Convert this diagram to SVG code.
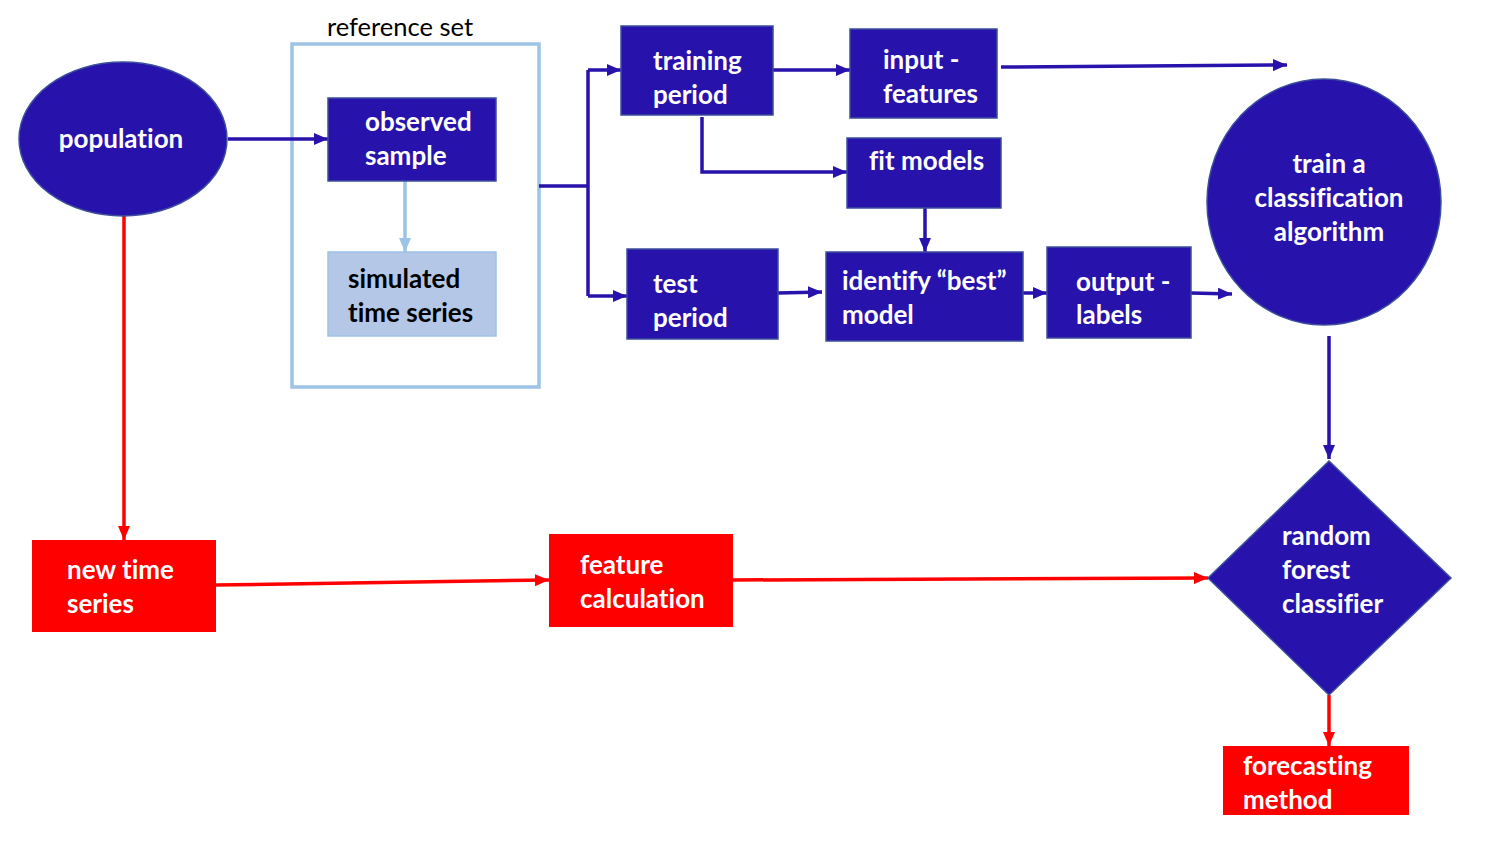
<svg xmlns="http://www.w3.org/2000/svg" width="1503" height="841" viewBox="0 0 1503 841">
<defs>
<marker id="ab" viewBox="0 0 14 12" refX="14" refY="6" markerWidth="14" markerHeight="12" markerUnits="userSpaceOnUse" orient="auto"><path d="M0,0 L14,6 L0,12 z" fill="#2812AC"/></marker>
<marker id="al" viewBox="0 0 14 12" refX="14" refY="6" markerWidth="14" markerHeight="12" markerUnits="userSpaceOnUse" orient="auto"><path d="M0,0 L14,6 L0,12 z" fill="#9DC3E6"/></marker>
<marker id="ar" viewBox="0 0 14 12" refX="14" refY="6" markerWidth="14" markerHeight="12" markerUnits="userSpaceOnUse" orient="auto"><path d="M0,0 L14,6 L0,12 z" fill="#FF0000"/></marker>
</defs>
<style>
.b{fill:#2812AC;stroke:#3C4E9C;stroke-width:1.5}
.r{fill:#FF0000}
.lt{fill:#B4C7E7;stroke:#9DC3E6;stroke-width:1.5}
text{font-family:Lato,"Open Sans","Liberation Sans",sans-serif;font-weight:bold;font-size:26px;fill:#fff;font-variant-ligatures:none}
.dk{fill:#000}
.cb{stroke:#2812AC;stroke-width:3.5;fill:none}
.cl{stroke:#9DC3E6;stroke-width:3.5;fill:none}
.cr{stroke:#FF0000;stroke-width:3.5;fill:none}
</style>
<rect width="1503" height="841" fill="#fff"/>
<g id="reference-set">
<rect x="292" y="44" width="247" height="343" fill="none" stroke="#9DC3E6" stroke-width="3.5"/>
<text x="327" y="36" class="dk" style="font-weight:normal;font-size:25.5px">reference set</text>
</g>
<g id="connectors">
<path class="cb" d="M228,139 L328,139" marker-end="url(#ab)"/>
<path class="cl" d="M405,181 L405,252" marker-end="url(#al)"/>
<path class="cb" d="M539,186 L588,186"/>
<path class="cb" d="M588,70 L588,296"/>
<path class="cb" d="M588,70 L621,70" marker-end="url(#ab)"/>
<path class="cb" d="M588,296 L627,296" marker-end="url(#ab)"/>
<path class="cb" d="M773,70 L850,70" marker-end="url(#ab)"/>
<path class="cb" d="M1001,67 L1287,65" marker-end="url(#ab)"/>
<path class="cb" d="M702,117 L702,172 L847,172" marker-end="url(#ab)"/>
<path class="cb" d="M925,208 L925,252" marker-end="url(#ab)"/>
<path class="cb" d="M778,293 L822,292" marker-end="url(#ab)"/>
<path class="cb" d="M1023,293 L1047,293" marker-end="url(#ab)"/>
<path class="cb" d="M1191,293 L1232,294" marker-end="url(#ab)"/>
<path class="cb" d="M1329,336 L1329,459" marker-end="url(#ab)"/>
<path class="cr" d="M124,216 L124,540" marker-end="url(#ar)"/>
<path class="cr" d="M216,585 L549,580" marker-end="url(#ar)"/>
<path class="cr" d="M733,580 L1208,578" marker-end="url(#ar)"/>
<path class="cr" d="M1329,695 L1329,746" marker-end="url(#ar)"/>
</g>
<g id="population">
<ellipse cx="123" cy="139" rx="104" ry="77" class="b"/>
<text x="121" y="148" text-anchor="middle">population</text>
</g>
<g id="observed-sample">
<rect x="328" y="98" width="168" height="83" class="b"/>
<text x="365" y="131">observed</text>
<text x="365" y="165">sample</text>
</g>
<g id="simulated-time-series">
<rect x="328" y="252" width="168" height="84" class="lt"/>
<text x="348" y="288" class="dk">simulated</text>
<text x="348" y="322" class="dk">time series</text>
</g>
<g id="training-period">
<rect x="621" y="26" width="152" height="89" class="b"/>
<text x="653" y="70">training</text>
<text x="653" y="104">period</text>
</g>
<g id="input-features">
<rect x="850" y="29" width="147" height="89" class="b"/>
<text x="883" y="69">input -</text>
<text x="883" y="103">features</text>
</g>
<g id="fit-models">
<rect x="847" y="138" width="154" height="70" class="b"/>
<text x="869" y="170">fit models</text>
</g>
<g id="test-period">
<rect x="627" y="249" width="151" height="90" class="b"/>
<text x="653" y="293">test</text>
<text x="653" y="327">period</text>
</g>
<g id="identify-best-model">
<rect x="826" y="252" width="197" height="89" class="b"/>
<text x="842" y="290">identify “best”</text>
<text x="842" y="324">model</text>
</g>
<g id="output-labels">
<rect x="1047" y="247" width="144" height="91" class="b"/>
<text x="1076" y="291">output -</text>
<text x="1076" y="324">labels</text>
</g>
<g id="train-classification">
<ellipse cx="1324" cy="202" rx="117" ry="123" class="b"/>
<text x="1329" y="173" text-anchor="middle">train a</text>
<text x="1329" y="207" text-anchor="middle">classification</text>
<text x="1329" y="241" text-anchor="middle">algorithm</text>
</g>
<g id="random-forest">
<path d="M1329,461 L1451,578 L1329,695 L1208,578 z" class="b"/>
<text x="1282" y="545">random</text>
<text x="1282" y="579">forest</text>
<text x="1282" y="613">classifier</text>
</g>
<g id="forecasting-method">
<rect x="1223" y="746" width="186" height="69" class="r"/>
<text x="1243" y="775">forecasting</text>
<text x="1243" y="809">method</text>
</g>
<g id="new-time-series">
<rect x="32" y="540" width="184" height="92" class="r"/>
<text x="67" y="579">new time</text>
<text x="67" y="613">series</text>
</g>
<g id="feature-calculation">
<rect x="549" y="534" width="184" height="93" class="r"/>
<text x="580" y="574">feature</text>
<text x="580" y="608">calculation</text>
</g>
</svg>
